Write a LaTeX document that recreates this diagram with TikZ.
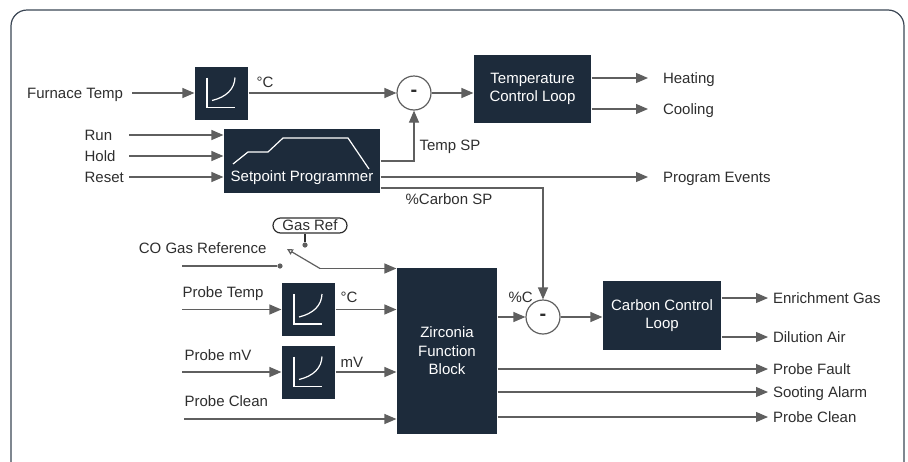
\documentclass[tikz,border=0pt]{standalone}
\usepackage{fontspec}
\setmainfont{Liberation Sans}
\usetikzlibrary{arrows.meta,calc}
\definecolor{navy}{HTML}{1D2B3B}
\definecolor{wire}{HTML}{5F5F5F}
\definecolor{ink}{HTML}{2E2E2E}
\definecolor{framec}{HTML}{3B4654}
\tikzset{
  every picture/.style={
    line width=0.6pt,
    >={Triangle[width=5pt, length=6pt]}
  },
  block/.style={
    fill=navy, text=white, align=center,
    inner sep=0pt
  },
  linblock/.style={
    block, minimum width=26.5pt, minimum height=26.5pt
  },
  sumnode/.style={
    circle, draw=wire, fill=white, text=ink, font=\bfseries,
    minimum size=17pt, inner sep=0pt
  },
  lbl/.style={
    text=ink, inner sep=0pt,
    text height=5.4pt, text depth=0pt
  },
  outlbl/.style={
    lbl, anchor=west, outer sep=#1
  },
  outlbl/.default=2.5pt,
  dot/.style={
    circle, fill=wire, minimum size=2.6pt,
    inner sep=0pt
  },
  pill/.style={
    draw=ink, text=ink, rounded corners=3.75pt,
    minimum width=37pt, minimum height=7.5pt, inner sep=0pt
  },
  lincurve/.pic={
    \draw[white] (-14.5,-15.5) -- (-14.5,14.5) -- (13.5,14.5);
    \draw[white] (-9.5,7.5) .. controls (5,4) and (13,-4) .. (13.5,-15.5);
  }
}
\begin{document}
\begin{tikzpicture}[x=0.5pt, y=-0.5pt, font=\fontsize{7.5pt}{9.2pt}\selectfont]
  \useasboundingbox (0,0) rectangle (908,461);
  \draw[framec, rounded corners=8pt] (11,10) rectangle (904,478);

  % temperature loop
  \node[lbl, anchor=east, outer sep=4.5pt] (ftemp) at (132,93) {Furnace Temp};
  \node[linblock] (lin1) at (221.5,93) {};
  \pic at (lin1) {lincurve};
  \node[lbl, anchor=west] (degc1) at (256,82) {°C};
  \node[sumnode] (sum1) at (414,93) {-};
  \node[block, minimum width=58.5pt, minimum height=34pt] (tcl) at (532.5,89)
    {Temperature\\Control Loop};
  \node[outlbl=7.5pt] (heat) at (648,78) {Heating};
  \node[outlbl=7.5pt] (cool) at (648,109) {Cooling};
  \draw[wire, ->] (ftemp.east) -- (lin1.west);
  \draw[wire, ->] (lin1) -- (sum1);
  \draw[wire, ->] (sum1) -- (sum1 -| tcl.west);
  \draw[wire, ->] (tcl.east |- heat) -- (heat.west);
  \draw[wire, ->] (tcl.east |- cool) -- (cool.west);

  % setpoint programmer
  \node[lbl, anchor=west] (run) at (84,135) {Run};
  \node[lbl, anchor=west] (hold) at (84,156) {Hold};
  \node[lbl, anchor=west] (reset) at (84,177) {Reset};
  \node[block, minimum width=78pt, minimum height=32pt] (spp) at (302,161) {};
  \node[text=white, inner sep=0pt] (spptxt) at (302,178) {Setpoint Programmer};
  \draw[white, shift={(spp.center)}] (-69,3) -- (-54,-9) -- (-34,-9)
    -- (-19,-23) -- (46,-23) -- (67,8);
  \coordinate (rhr) at (129,156);
  \draw[wire, ->] (rhr |- run) -- (spp.west |- run);
  \draw[wire, ->] (rhr |- hold) -- (spp.west |- hold);
  \draw[wire, ->] (rhr |- reset) -- (spp.west |- reset);
  \node[lbl, anchor=west] (tsp) at (419,145) {Temp SP};
  \draw[wire, ->] (spp.east) -- (spp.east -| sum1) -- (sum1.south);
  \node[outlbl=7.5pt] (pev) at (648,177) {Program Events};
  \draw[wire, ->] ([yshift=-8pt]spp.east) -- (pev.west);
  \node[lbl, anchor=west] (csp) at (405,199) {\%Carbon SP};

  % gas reference switch
  \node[pill] (gasref) at (310,225.5) {Gas Ref};
  \node[dot] (swctl) at (305,245) {};
  \draw[ink] (swctl) -- (swctl |- gasref.south);
  \node[lbl, anchor=east] (cogas) at (267,248) {CO Gas Reference};
  \node[dot] (swin) at (280,266) {};
  \coordinate (swpiv) at (320,268.5);
  \coordinate (swtip) at (287,249);

  % zirconia block
  \node[block, minimum width=50pt, minimum height=83pt] (zfb) at (447,351)
    {Zirconia\\Function\\Block};
  \node[lbl, anchor=west] (ptemp) at (182,292) {Probe Temp};
  \node[linblock] (lin2) at (308.5,309.5) {};
  \pic at (lin2) {lincurve};
  \node[lbl, anchor=west] (degc2) at (340,297) {°C};
  \node[lbl, anchor=west] (pmv) at (184,355) {Probe mV};
  \node[linblock] (lin3) at (308.5,372) {};
  \pic at (lin3) {lincurve};
  \node[lbl, anchor=west] (mvlbl) at (340,362) {mV};
  \node[lbl, anchor=west] (pclean) at (184,401) {Probe Clean};

  \draw[wire] (ptemp.west |- swin) -- (swin);
  \draw[wire, -{Triangle[open, length=3pt, width=3pt]}] (swpiv) -- (swtip);
  \draw[wire, ->] (swpiv) -- (swpiv -| zfb.west);
  \draw[wire, ->] (ptemp.west |- lin2) -- (lin2.west);
  \draw[wire, ->] (lin2) -- (lin2 -| zfb.west);
  \draw[wire, ->] (ptemp.west |- lin3) -- (lin3.west);
  \draw[wire, ->] (lin3) -- (lin3 -| zfb.west);
  \draw[wire, ->] ([yshift=-9pt]pclean.west) -- ([yshift=-9pt]pclean.west -| zfb.west);

  % carbon loop
  \node[sumnode] (sum2) at (543,317) {-};
  \node[lbl, anchor=west] (pctag) at (508,297) {\%C};
  \node[block, minimum width=59pt, minimum height=34.5pt] (ccl) at (662,315.5)
    {Carbon Control\\Loop};
  \draw[wire, ->] ([yshift=-13.5pt]spp.east) -| (sum2.north);
  \draw[wire, ->] (zfb.east |- sum2) -- (sum2.west);
  \draw[wire, ->] (sum2) -- (sum2 -| ccl.west);
  \node[outlbl] (enrich) at (768,298) {Enrichment Gas};
  \node[outlbl] (dil) at (768,337) {Dilution Air};
  \node[outlbl] (pfault) at (768,369) {Probe Fault};
  \node[outlbl] (soot) at (768,392) {Sooting Alarm};
  \node[outlbl] (pcout) at (768,417) {Probe Clean};
  \draw[wire, ->] (ccl.east |- enrich) -- (enrich.west);
  \draw[wire, ->] (ccl.east |- dil) -- (dil.west);
  \draw[wire, ->] (zfb.east |- pfault) -- (pfault.west);
  \draw[wire, ->] (zfb.east |- soot) -- (soot.west);
  \draw[wire, ->] (zfb.east |- pcout) -- (pcout.west);
\end{tikzpicture}
\end{document}
